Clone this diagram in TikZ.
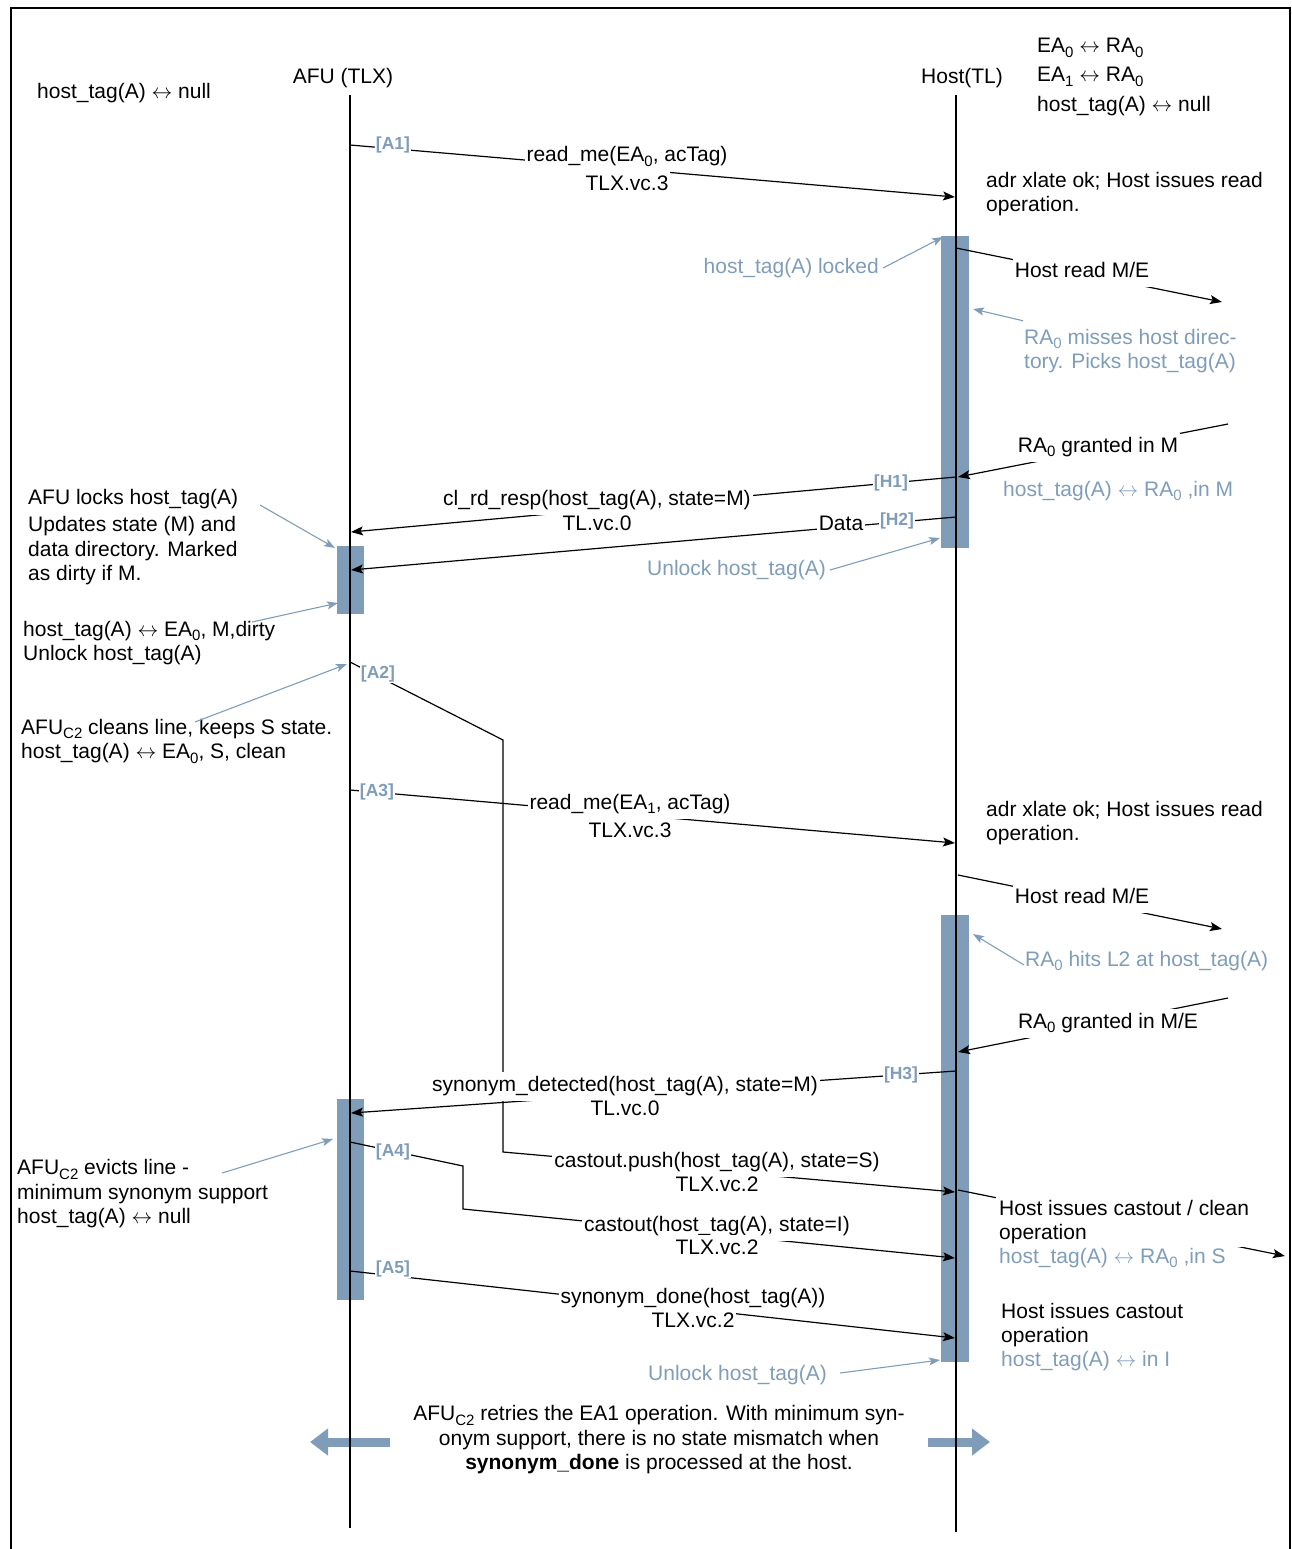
\documentclass[tikz,border=0pt]{standalone}
\usepackage{fontspec}
\setmainfont{Liberation Sans}
\usetikzlibrary{arrows.meta}
\definecolor{bg}{RGB}{127,157,185}
\newcommand{\sbs}[1]{\raisebox{-4.5pt}{\fontsize{15}{15}\selectfont #1}}
\newcommand{\lra}{$\leftrightarrow$}
\tikzset{
  every node/.style={font=\fontsize{21}{24.5}\selectfont, inner sep=1pt},
  lifeline/.style={line width=1.6pt, black},
  msg/.style={line width=1.2pt, black, -{Stealth[length=12pt,width=9pt,inset=2.5pt]}},
  note/.style={line width=1.1pt, draw=bg, -{Stealth[length=11pt,width=8pt,inset=2.5pt]}},
  bar/.style={fill=bg, draw=none, inner sep=0pt, anchor=north west},
  lbl/.style={fill=white, inner xsep=2pt, inner ysep=2.5pt, text height=17pt, text depth=7pt},
  tag/.style={fill=white, text=bg, inner sep=1pt, font=\fontsize{17.5}{18}\selectfont\bfseries},
  bluetxt/.style={text=bg},
  blk/.style={align=left, anchor=west},
  fat/.style={line width=9pt, draw=bg, -{Triangle[length=18pt,width=26pt]}},
}
\begin{document}
\begin{tikzpicture}[x=1pt,y=-1pt]
\useasboundingbox (0,0) rectangle (1291,1549);
% frame
\draw[line width=2pt] (11,1549) -- (11,8) -- (1290,8) -- (1290,1549);

% headers
\node (afu) at (343,78) {AFU (TLX)};
\node (host) at (962,78) {Host(TL)};
\node[anchor=west] (hl) at (36,93) {host\_tag(A) \lra{} null};
\node[anchor=west] (hr1) at (1036,48) {EA\sbs{0} \lra{} RA\sbs{0}};
\node[anchor=west] (hr2) at (1036,77) {EA\sbs{1} \lra{} RA\sbs{0}};
\node[anchor=west] (hr3) at (1036,106) {host\_tag(A) \lra{} null};

% fat arrows at the bottom
\coordinate (fl1) at (390,1442); \coordinate (fl2) at (310,1442);
\coordinate (fr1) at (928,1442); \coordinate (fr2) at (990,1442);
\draw[fat] (fl1) -- (fl2);
\draw[fat] (fr1) -- (fr2);

% activation bars
\node[bar, minimum width=28pt, minimum height=312pt] (hb1) at (941,236) {};
\node[bar, minimum width=28pt, minimum height=447pt] (hb2) at (941,915) {};
\node[bar, minimum width=27pt, minimum height=68pt] (ab1) at (337,546) {};
\node[bar, minimum width=27pt, minimum height=201pt] (ab2) at (337,1099) {};

% lifelines
\coordinate (afuT) at (350,95); \coordinate (afuB) at (350,1528);
\coordinate (hostT) at (956,95); \coordinate (hostB) at (956,1532);
\draw[lifeline] (afuT) -- (afuB);
\draw[lifeline] (hostT) -- (hostB);

% ---- messages ----
\coordinate (m1a) at (350,145); \coordinate (m1b) at (955,197);
\draw[msg] (m1a) -- (m1b);
\coordinate (s1a) at (956,248); \coordinate (s1b) at (1222,302);
\draw[msg] (s1a) -- (s1b);
\coordinate (f1a) at (1228,424); \coordinate (f1b) at (958,477);
\draw[msg] (f1a) -- (f1b);
\coordinate (h1a) at (956,477); \coordinate (h1b) at (351,532);
\draw[msg] (h1a) -- (h1b);
\coordinate (h2a) at (956,517); \coordinate (h2b) at (351,570);
\draw[msg] (h2a) -- (h2b);
\coordinate (a2a) at (350,662); \coordinate (a2k1) at (503,740);
\coordinate (a2k2) at (503,1152); \coordinate (a2b) at (955,1192);
\draw[msg] (a2a) -- (a2k1) -- (a2k2) -- (a2b);
\coordinate (m4a) at (350,790); \coordinate (m4b) at (955,843);
\draw[msg] (m4a) -- (m4b);
\coordinate (s2a) at (958,875); \coordinate (s2b) at (1222,929);
\draw[msg] (s2a) -- (s2b);
\coordinate (f2a) at (1228,998); \coordinate (f2b) at (958,1052);
\draw[msg] (f2a) -- (f2b);
\coordinate (h3a) at (956,1071); \coordinate (h3b) at (351,1113);
\draw[msg] (h3a) -- (h3b);
\coordinate (a4a) at (350,1142); \coordinate (a4k1) at (463,1166);
\coordinate (a4k2) at (463,1209); \coordinate (a4b) at (955,1258);
\draw[msg] (a4a) -- (a4k1) -- (a4k2) -- (a4b);
\coordinate (s3a) at (958,1190); \coordinate (s3b) at (1285,1256);
\draw[msg] (s3a) -- (s3b);
\coordinate (a5a) at (350,1271); \coordinate (a5b) at (955,1338);
\draw[msg] (a5a) -- (a5b);

% ---- labels on messages ----
\node[tag] (ta1) at (393,145) {[A1]};
\node[lbl] (m1l1) at (627,157) {read\_me(EA\sbs{0}, acTag)};
\node[lbl] (m1l2) at (627,186) {TLX.vc.3};
\node[lbl] (s1l) at (1082,272) {Host read M/E};
\node[lbl] (f1l) at (1098,447) {RA\sbs{0} granted in M};
\node[tag] (th1) at (891,483) {[H1]};
\node[lbl] (h1l1) at (597,500) {cl\_rd\_resp(host\_tag(A), state=M)};
\node[lbl] (h1l2) at (597,525) {TL.vc.0};
\node[tag] (th2) at (897,521) {[H2]};
\node[lbl] (h2l) at (841,525) {Data};
\node[tag] (ta2) at (378,674) {[A2]};
\node[tag] (ta3) at (377,792) {[A3]};
\node[lbl] (m4l1) at (630,804) {read\_me(EA\sbs{1}, acTag)};
\node[lbl] (m4l2) at (630,832) {TLX.vc.3};
\node[lbl] (s2l) at (1082,898) {Host read M/E};
\node[lbl] (f2l) at (1108,1023) {RA\sbs{0} granted in M/E};
\node[tag] (th3) at (901,1075) {[H3]};
\node[lbl] (h3l1) at (625,1086) {synonym\_detected(host\_tag(A), state=M)};
\node[lbl] (h3l2) at (625,1110) {TL.vc.0};
\node[lbl] (a2l1) at (717,1162) {castout.push(host\_tag(A), state=S)};
\node[lbl] (a2l2) at (717,1186) {TLX.vc.2};
\node[tag] (ta4) at (393,1152) {[A4]};
\node[lbl] (a4l1) at (717,1226) {castout(host\_tag(A), state=I)};
\node[lbl] (a4l2) at (717,1249) {TLX.vc.2};
\node[blk, fill=white, inner sep=3pt] (s3l) at (996,1222) {Host issues castout / clean\\operation};
\node[tag] (ta5) at (393,1269) {[A5]};
\node[lbl] (a5l1) at (693,1298) {synonym\_done(host\_tag(A))};
\node[lbl] (a5l2) at (693,1322) {TLX.vc.2};

% ---- host side texts ----
\node[blk] (adr1) at (985,194) {adr xlate ok; Host issues read\\operation.};
\node[blk] (adr2) at (985,823) {adr xlate ok; Host issues read\\operation.};
\node[bluetxt, anchor=west] (hm) at (1002,491) {host\_tag(A) \lra{} RA\sbs{0} ,in M};
\node[bluetxt, anchor=west] (hs) at (998,1258) {host\_tag(A) \lra{} RA\sbs{0} ,in S};
\node[blk] (hc2) at (1000,1325) {Host issues castout\\operation};
\node[bluetxt, anchor=west] (hi) at (1000,1361) {host\_tag(A) \lra{} in I};

% ---- blue notes with arrows ----
\node[bluetxt, anchor=east] (lk) at (880,268) {host\_tag(A) locked};
\coordinate (lkh) at (943,237);
\draw[note] ([xshift=3pt]lk.east) -- (lkh);

\node[bluetxt, blk] (miss) at (1023,351) {RA\sbs{0} misses host direc-\\tory. Picks host\_tag(A)};
\coordinate (missh) at (973,309);
\draw[note] ([yshift=7pt]miss.north west) -- (missh);

\node[bluetxt, anchor=east] (ul1) at (827,570) {Unlock host\_tag(A)};
\coordinate (ul1h) at (940,538);
\draw[note] ([xshift=3pt]ul1.east) -- (ul1h);

\node[bluetxt, anchor=west] (hit) at (1024,961) {RA\sbs{0} hits L2 at host\_tag(A)};
\coordinate (hith) at (973,934);
\draw[note] ([yshift=-4pt]hit.west) -- (hith);

\node[bluetxt, anchor=east] (ul2) at (828,1375) {Unlock host\_tag(A)};
\coordinate (ul2h) at (940,1360);
\draw[note] ([xshift=12pt,yshift=2pt]ul2.east) -- (ul2h);

% ---- AFU side notes ----
\node[anchor=west] (alk) at (27,499) {AFU locks host\_tag(A)};
\node[blk] (upd) at (27,551) {Updates state (M) and\\data directory. Marked\\as dirty if M.};
\coordinate (alkt) at (260,505); \coordinate (alkh) at (335,548);
\draw[note] (alkt) -- (alkh);

\node[blk] (dirty) at (22,643) {host\_tag(A) \lra{} EA\sbs{0}, M,dirty\\Unlock host\_tag(A)};
\coordinate (dirt) at (252,622); \coordinate (dirh) at (338,603);
\draw[note] (dirt) -- (dirh);

\node[blk] (clean) at (20,741) {AFU\sbs{C2} cleans line, keeps S state.\\host\_tag(A) \lra{} EA\sbs{0}, S, clean};
\coordinate (clt) at (195,722); \coordinate (clh) at (347,664);
\draw[note] (clt) -- (clh);

\node[blk] (evict) at (16,1194) {AFU\sbs{C2} evicts line -\\minimum synonym support\\host\_tag(A) \lra{} null};
\coordinate (evt) at (222,1173); \coordinate (evh) at (333,1139);
\draw[note] (evt) -- (evh);

% ---- bottom text ----
\node[align=center] (retry) at (659,1440) {AFU\sbs{C2} retries the EA1 operation. With minimum syn-\\onym support, there is no state mismatch when\\\textbf{synonym\_done} is processed at the host.};
\end{tikzpicture}
\end{document}
